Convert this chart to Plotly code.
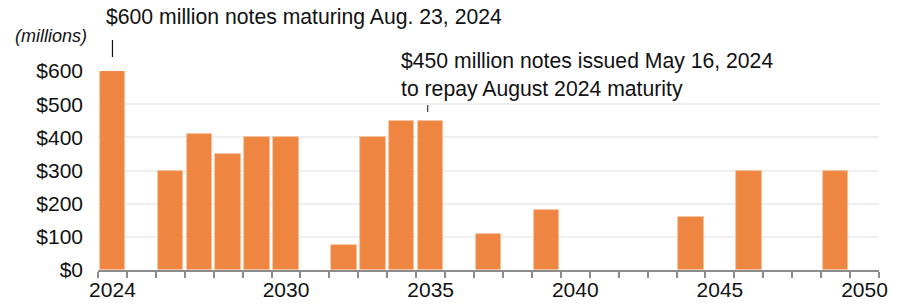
import plotly.graph_objects as go

years = list(range(2024, 2051))
amounts = [600, 0, 300, 410, 350, 400, 400, 0, 75, 400, 450, 450, 0, 110, 0, 180,
           0, 0, 0, 0, 160, 0, 300, 0, 0, 300, 0]
tick_labels = ["2024", "2030", "2035", "2040", "2045", "2050"]
y_ticks = [0, 100, 200, 300, 400, 500, 600]
y_labels = ["$" + str(v) for v in y_ticks]

bar_color = "#EE8641"
font_family = "Liberation Sans, Arial, sans-serif"
W, H = 895, 296
L, R, T, B = 90, 24, 63, 34
pw, ph = W - L - R, H - T - B


def px_x(px):
    return (px - L) / pw


def px_y(py):
    return (H - B - py) / ph


fig = go.Figure()
fig.add_trace(go.Bar(
    x=years, y=[v if v > 0 else None for v in amounts], width=0.88,
    marker=dict(color=bar_color, line=dict(color="#F6C3A0", width=0.8)),
    hoverinfo="x+y",
))

fig.update_layout(
    width=W, height=H,
    margin=dict(l=L, r=R, t=T, b=B, autoexpand=False),
    paper_bgcolor="white", plot_bgcolor="white",
    showlegend=False,
    font=dict(family=font_family, color="#111111", size=21),
    bargap=0,
)
fig.update_xaxes(
    range=[2023.5, 2050.5], automargin=False,
    tickvals=[int(t) for t in tick_labels], ticktext=tick_labels,
    ticks="", showgrid=False, zeroline=False,
    showline=True, linecolor="#8C8C8C", linewidth=2,
    tickfont=dict(size=21, color="#111111"),
    ticklabelstandoff=0,
    minor=dict(tickvals=[y - 0.5 for y in years] + [2050.5], ticks="outside",
               ticklen=6, tickcolor="#8C8C8C", tickwidth=1.5, showgrid=False),
)
fig.update_yaxes(
    range=[0, 600], tickvals=y_ticks, ticktext=y_labels, automargin=False,
    showgrid=True, gridcolor="#EFEFEF", gridwidth=2, zeroline=False,
    ticks="", tickfont=dict(size=21, color="#111111"), ticklabelstandoff=14,
)

fig.add_annotation(xref="paper", yref="paper", x=px_x(43), y=px_y(28), xanchor="center", yanchor="middle",
                   text="<i>(millions)</i>", showarrow=False, font=dict(size=18, color="#111111"))
fig.add_annotation(xref="paper", yref="paper", x=px_x(96), y=px_y(9), xanchor="left", yanchor="middle",
                   text="$600 million notes maturing Aug. 23, 2024", showarrow=False,
                   font=dict(size=21.2, color="#111111"))
fig.add_shape(type="line", xref="x", yref="paper", x0=2024, x1=2024, y0=px_y(49), y1=px_y(32),
              line=dict(color="#111111", width=1.2))
fig.add_annotation(xref="paper", yref="paper", x=px_x(391), y=px_y(67), xanchor="left", yanchor="middle",
                   text="$450 million notes issued May 16, 2024<br>to repay August 2024 maturity",
                   showarrow=False, align="left", font=dict(size=21.2, color="#111111"))
fig.add_shape(type="line", xref="x", yref="paper", x0=2034.9, x1=2034.9, y0=px_y(104), y1=px_y(97),
              line=dict(color="#111111", width=1))

fig.write_html("out.html")
